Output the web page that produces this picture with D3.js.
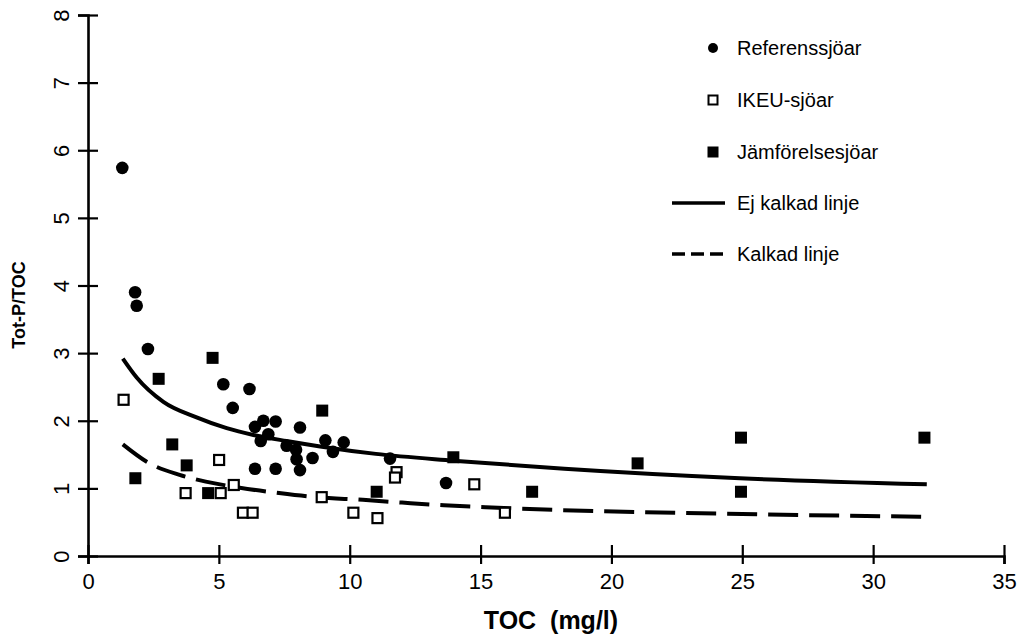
<!DOCTYPE html>
<html>
<head>
<meta charset="utf-8">
<script src="https://cdn.jsdelivr.net/npm/d3@7"></script>
<style>
  body { margin: 0; background: #fff; }
  svg { display: block; }
  .tick text { font-family: 'Liberation Sans Narrow', 'Arial Narrow', 'Liberation Sans', Arial, sans-serif; font-size: 22px; fill: #000; }
  .legend text { font-family: 'Liberation Sans', Arial, sans-serif; font-size: 20px; fill: #000; }
  .title { font-family: 'Liberation Sans', Arial, sans-serif; font-weight: bold; fill: #000; }
</style>
</head>
<body>
<div id="vis"></div>
<script>

// Referenssjöar: TOC, Tot-P/TOC
var referens = [
  [1.31, 5.74], [1.80, 3.90], [1.86, 3.70], [2.29, 3.06], [5.17, 2.54],
  [6.17, 2.47], [5.53, 2.19], [6.38, 1.91], [6.70, 2.00], [7.17, 1.99],
  [6.89, 1.80], [6.60, 1.70], [8.10, 1.90], [7.59, 1.63], [7.95, 1.57],
  [7.97, 1.43], [8.58, 1.45], [8.10, 1.27], [9.07, 1.71], [9.77, 1.68],
  [9.36, 1.54], [6.38, 1.29], [7.17, 1.29], [11.54, 1.44], [13.68, 1.08]
];

// IKEU-sjöar
var ikeu = [
  [1.36, 2.31], [5.01, 1.42], [5.57, 1.05], [3.73, 0.93], [5.07, 0.93],
  [5.92, 0.64], [6.29, 0.64], [8.93, 0.87], [10.14, 0.64], [11.06, 0.56],
  [11.79, 1.24], [11.73, 1.16], [14.76, 1.06], [15.93, 0.64]
];

// Jämförelsesjöar
var jamfor = [
  [1.81, 1.15], [2.70, 2.62], [3.22, 1.65], [3.77, 1.34], [4.59, 0.93],
  [4.76, 2.93], [8.95, 2.15], [11.03, 0.95], [13.96, 1.46], [16.97, 0.95],
  [21.0, 1.37], [24.95, 1.75], [24.95, 0.95], [31.96, 1.75]
];

// curves
var ejKalkad = [
  [1.33, 2.92], [1.86, 2.64], [2.88, 2.28], [4.15, 2.05], [5.3, 1.89],
  [6.32, 1.79], [7.59, 1.70], [8.87, 1.62], [11.0, 1.51], [13.96, 1.41],
  [18.2, 1.29], [24.91, 1.15], [32.05, 1.06]
];
var kalkad = [
  [1.33, 1.65], [2.3, 1.38], [3.5, 1.20], [4.5, 1.10], [5.8, 1.01],
  [7.3, 0.93], [8.7, 0.87], [10.5, 0.83], [12.0, 0.79], [13.6, 0.75],
  [15.2, 0.72], [18.0, 0.68], [21.0, 0.65], [25.0, 0.62], [32.05, 0.58]
];

var xTicks = [0, 5, 10, 15, 20, 25, 30, 35];
var yTicks = [0, 1, 2, 3, 4, 5, 6, 7, 8];

var legendItems = [
  { label: 'Referenssjöar', kind: 'circle' },
  { label: 'IKEU-sjöar', kind: 'open' },
  { label: 'Jämförelsesjöar', kind: 'square' },
  { label: 'Ej kalkad linje', kind: 'solid' },
  { label: 'Kalkad linje', kind: 'dashed' }
];

var width = 1035;
var height = 638;

var x = d3.scaleLinear().domain([0, 35]).range([88, 1004]);
var y = d3.scaleLinear().domain([0, 8]).range([556, 15]);

var svg = d3.select('#vis')
  .append('svg')
  .attr('width', width)
  .attr('height', height);

// axes
var xAxis = svg.append('g')
  .attr('transform', 'translate(0,' + y(0) + ')')
  .call(d3.axisBottom(x).tickValues(xTicks).tickSize(8).tickPadding(10).tickFormat(d3.format('d')));

xAxis.select('.domain').attr('stroke', '#000').attr('stroke-width', 2.6);
xAxis.selectAll('.tick line').attr('stroke', '#000').attr('stroke-width', 2.2).attr('y1', -11).attr('y2', 8);
xAxis.selectAll('.tick text').attr('y', 17);

var yAxis = svg.append('g')
  .attr('transform', 'translate(' + x(0) + ',0)')
  .call(d3.axisLeft(y).tickValues(yTicks).tickSize(10).tickFormat(d3.format('d')));

yAxis.select('.domain').attr('stroke', '#000').attr('stroke-width', 2.6);
yAxis.selectAll('.tick line').attr('stroke', '#000').attr('stroke-width', 2.2).attr('x1', 10).attr('x2', -10);
yAxis.selectAll('.tick text')
  .attr('x', 0)
  .attr('dy', 0)
  .attr('text-anchor', 'middle')
  .attr('transform', 'translate(-19,0) rotate(-90)');

// titles
svg.append('text')
  .attr('class', 'title')
  .attr('text-anchor', 'middle')
  .attr('transform', 'translate(25,305) rotate(-90)')
  .style('font-size', '18px')
  .text('Tot-P/TOC');

svg.append('text')
  .attr('class', 'title')
  .attr('text-anchor', 'middle')
  .attr('x', 551)
  .attr('y', 629)
  .style('font-size', '25px')
  .style('white-space', 'pre')
  .text('TOC  (mg/l)');

// fitted lines
var line = d3.line()
  .x(function (d) { return x(d[0]); })
  .y(function (d) { return y(d[1]); })
  .curve(d3.curveMonotoneX);

svg.append('path')
  .datum(ejKalkad)
  .attr('d', line)
  .attr('fill', 'none')
  .attr('stroke', '#000')
  .attr('stroke-width', 4);

svg.append('path')
  .datum(kalkad)
  .attr('d', line)
  .attr('fill', 'none')
  .attr('stroke', '#000')
  .attr('stroke-width', 4)
  .attr('stroke-dasharray', '30,11');

// points
svg.selectAll('.ref')
  .data(referens)
  .enter().append('circle')
  .attr('class', 'ref')
  .attr('cx', function (d) { return x(d[0]); })
  .attr('cy', function (d) { return y(d[1]); })
  .attr('r', 6.3)
  .attr('fill', '#000');

svg.selectAll('.ikeu')
  .data(ikeu)
  .enter().append('rect')
  .attr('class', 'ikeu')
  .attr('x', function (d) { return x(d[0]) - 5; })
  .attr('y', function (d) { return y(d[1]) - 5; })
  .attr('width', 10)
  .attr('height', 10)
  .attr('fill', '#fff')
  .attr('stroke', '#000')
  .attr('stroke-width', 2.2);

svg.selectAll('.jamf')
  .data(jamfor)
  .enter().append('rect')
  .attr('class', 'jamf')
  .attr('x', function (d) { return x(d[0]) - 6; })
  .attr('y', function (d) { return y(d[1]) - 6; })
  .attr('width', 12)
  .attr('height', 12)
  .attr('fill', '#000');

// legend
var legend = svg.append('g').attr('class', 'legend');
var rowY = [48, 100, 152, 203, 254];

legendItems.forEach(function (item, i) {
  var g = legend.append('g').attr('transform', 'translate(0,' + rowY[i] + ')');
  if (item.kind === 'circle') {
    g.append('circle').attr('cx', 713).attr('cy', 0).attr('r', 5).attr('fill', '#000');
  } else if (item.kind === 'open') {
    g.append('rect').attr('x', 708.5).attr('y', -4.5).attr('width', 9).attr('height', 9)
      .attr('fill', '#fff').attr('stroke', '#000').attr('stroke-width', 2);
  } else if (item.kind === 'square') {
    g.append('rect').attr('x', 707.5).attr('y', -5.5).attr('width', 11).attr('height', 11).attr('fill', '#000');
  } else {
    g.append('line').attr('x1', 672).attr('x2', 725).attr('y1', 0).attr('y2', 0)
      .attr('stroke', '#000').attr('stroke-width', 3.5)
      .attr('stroke-dasharray', item.kind === 'dashed' ? '13,6' : null);
  }
  g.append('text').attr('x', 737).attr('y', 7).text(item.label);
});

</script>
</body>
</html>
